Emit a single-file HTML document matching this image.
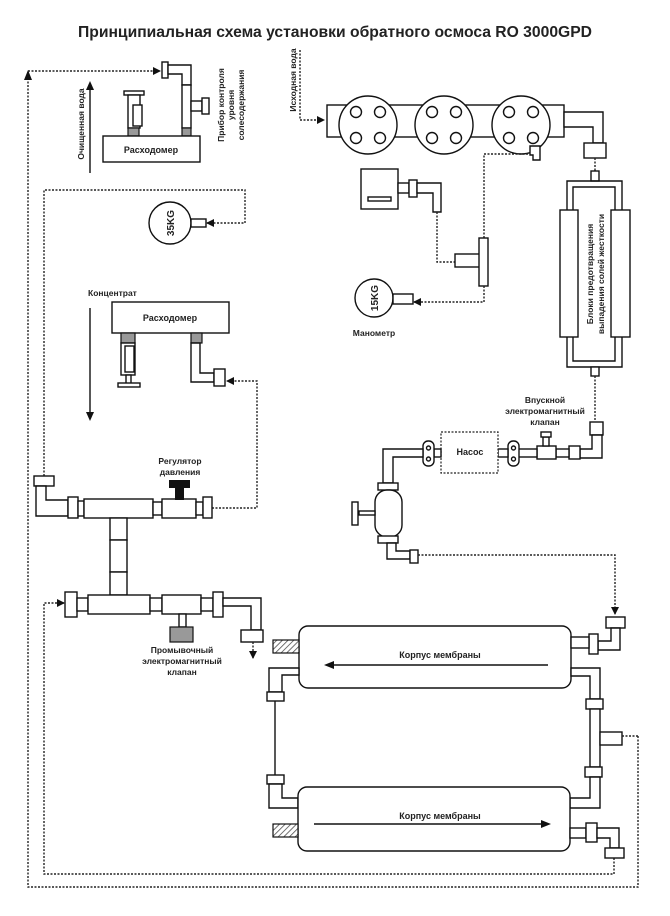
<!DOCTYPE html>
<html><head><meta charset="utf-8"><style>
html,body{margin:0;padding:0;background:#fff}
svg{display:block}
text{font-family:"Liberation Sans",Arial,sans-serif;font-weight:bold;fill:#222}
.s{fill:#fff;stroke:#111;stroke-width:1.4}
.n{fill:none;stroke:#111;stroke-width:1.4}
.d{fill:none;stroke:#222;stroke-width:1.4;stroke-dasharray:2 1.5}
.g{fill:#999;stroke:#111;stroke-width:1.2}
</style></head><body>
<svg width="670" height="916" viewBox="0 0 670 916" xmlns="http://www.w3.org/2000/svg">
<defs>
<marker id="a" markerWidth="8" markerHeight="8" refX="7" refY="4" orient="auto" markerUnits="userSpaceOnUse"><path d="M0,0 L8,4 L0,8z" fill="#111"/></marker>
<pattern id="h" width="4" height="4" patternUnits="userSpaceOnUse" patternTransform="rotate(45)"><rect width="4" height="4" fill="#fff"/><line x1="0" y1="0" x2="0" y2="4" stroke="#444" stroke-width="1.5"/></pattern>
</defs>
<text x="78" y="37" font-size="15.5" textLength="514" lengthAdjust="spacingAndGlyphs">Принципиальная схема установки обратного осмоса RO 3000GPD</text>

<!-- outer dotted loops -->
<path class="d" d="M638,736 V887 H28 V72" />
<path class="d" d="M28,71 H160" marker-end="url(#a)"/>
<path d="M24,80 L28,70 L32,80z" fill="#111"/>
<path class="d" d="M44,476 V190 H245 V223 H207" marker-end="url(#a)"/>
<path class="d" d="M614,858 V874 H44 V603 H64" marker-end="url(#a)"/>

<!-- top-left flowmeter -->
<rect class="s" x="162" y="62" width="6" height="16"/>
<path class="s" d="M168,65 H191 V85 H182 V74 H168z"/>
<rect class="s" x="182" y="85" width="9" height="43"/>
<rect class="s" x="191" y="101" width="11" height="10"/>
<rect class="s" x="202" y="98" width="7" height="16"/>
<rect class="g" x="182" y="128" width="9" height="8"/>
<rect class="s" x="124" y="91" width="20" height="4"/>
<rect class="s" x="128" y="95" width="12" height="33"/>
<rect class="s" x="133" y="105" width="9" height="21"/>
<rect class="g" x="128" y="128" width="11" height="8"/>
<rect class="s" x="103" y="136" width="97" height="26"/>
<text x="151" y="153" font-size="9" text-anchor="middle">Расходомер</text>
<line x1="90" y1="173" x2="90" y2="90" stroke="#111" stroke-width="1.4"/>
<path d="M86,90 L90,81 L94,90z" fill="#111"/>
<text transform="translate(84,124) rotate(-90)" font-size="8.5" text-anchor="middle">Очищенная вода</text>
<text transform="translate(224,105) rotate(-90)" font-size="8.5" text-anchor="middle">
<tspan x="0" dy="0">Прибор контроля</tspan><tspan x="0" dy="10">уровня</tspan><tspan x="0" dy="10">солесодержания</tspan></text>

<!-- 35KG -->
<circle class="s" cx="170" cy="223" r="21"/>
<rect class="s" x="191" y="219" width="15" height="8"/>
<text transform="translate(174,223) rotate(-90)" font-size="10" text-anchor="middle">35KG</text>

<!-- concentrate flowmeter -->
<text x="88" y="296" font-size="8.5">Концентрат</text>
<line x1="90" y1="308" x2="90" y2="412" stroke="#111" stroke-width="1.4"/>
<path d="M86,412 L90,421 L94,412z" fill="#111"/>
<rect class="s" x="112" y="302" width="117" height="31"/>
<text x="170" y="321" font-size="9" text-anchor="middle">Расходомер</text>
<rect class="g" x="121" y="333" width="14" height="10"/>
<rect class="s" x="121" y="343" width="14" height="32"/>
<rect class="s" x="125" y="346" width="9" height="26"/>
<rect class="s" x="126" y="375" width="5" height="9"/>
<rect class="s" x="118" y="383" width="22" height="4"/>
<rect class="g" x="191" y="333" width="11" height="10"/>
<path class="s" d="M191,343 H200 V373 H214 V382 H191z"/>
<rect class="s" x="214" y="369" width="11" height="17"/>
<path class="d" d="M212,508 H257 V381 H227" marker-end="url(#a)"/>

<!-- left valve assembly -->
<rect class="s" x="34" y="476" width="20" height="10"/>
<path class="s" d="M36,486 H46 V500 H68 V516 H36z"/>
<rect class="s" x="68" y="497" width="10" height="21"/>
<rect class="s" x="78" y="501" width="6" height="15"/>
<rect class="s" x="84" y="499" width="69" height="19"/>
<rect class="s" x="153" y="502" width="9" height="13"/>
<rect class="s" x="162" y="499" width="34" height="19"/>
<rect x="175" y="487" width="9" height="13" fill="#111"/>
<rect x="169" y="480" width="21" height="8" fill="#111"/>
<rect class="s" x="196" y="502" width="7" height="13"/>
<rect class="s" x="203" y="497" width="9" height="21"/>
<text x="180" y="464" font-size="8.5" text-anchor="middle">Регулятор</text>
<text x="180" y="475" font-size="8.5" text-anchor="middle">давления</text>
<rect class="s" x="110" y="518" width="17" height="22"/>
<rect class="s" x="110" y="540" width="17" height="32"/>
<rect class="s" x="110" y="572" width="17" height="23"/>
<rect class="s" x="65" y="592" width="12" height="25"/>
<rect class="s" x="77" y="598" width="11" height="13"/>
<rect class="s" x="88" y="595" width="62" height="19"/>
<rect class="s" x="150" y="598" width="12" height="13"/>
<rect class="s" x="162" y="595" width="39" height="19"/>
<rect class="s" x="179" y="614" width="7" height="13"/>
<rect class="g" x="170" y="627" width="23" height="15"/>
<rect class="s" x="201" y="598" width="12" height="13"/>
<rect class="s" x="213" y="592" width="10" height="25"/>
<path class="s" d="M223,598 H261 V630 H251 V606 H223z"/>
<rect class="s" x="241" y="630" width="22" height="12"/>
<path class="d" d="M253,642 V658" marker-end="url(#a)"/>
<text x="182" y="653" font-size="8.5" text-anchor="middle">Промывочный</text>
<text x="182" y="664" font-size="8.5" text-anchor="middle">электромагнитный</text>
<text x="182" y="675" font-size="8.5" text-anchor="middle">клапан</text>

<!-- source water -->
<text transform="translate(296,80) rotate(-90)" font-size="8.5" text-anchor="middle">Исходная вода</text>
<path class="d" d="M300,50 V120 H324" marker-end="url(#a)"/>
<rect class="s" x="327" y="105" width="237" height="32"/>
<g>
<circle class="s" cx="368" cy="125" r="29"/><circle class="s" cx="444" cy="125" r="29"/><circle class="s" cx="521" cy="125" r="29"/>
<g class="s">
<circle cx="356" cy="112" r="5.5"/><circle cx="380" cy="112" r="5.5"/><circle cx="356" cy="138" r="5.5"/><circle cx="380" cy="138" r="5.5"/>
<circle cx="432" cy="112" r="5.5"/><circle cx="456" cy="112" r="5.5"/><circle cx="432" cy="138" r="5.5"/><circle cx="456" cy="138" r="5.5"/>
<circle cx="509" cy="112" r="5.5"/><circle cx="533" cy="112" r="5.5"/><circle cx="509" cy="138" r="5.5"/><circle cx="533" cy="138" r="5.5"/>
</g></g>
<path class="s" d="M564,112 H603 V143 H593 V127 H564z"/>
<rect class="s" x="584" y="143" width="22" height="15"/>
<path class="s" d="M530,146 H540 V160 H533 V155 H530z"/>
<path class="d" d="M484,238 V154 H530"/>
<path class="d" d="M595,158 V172"/>

<rect class="s" x="361" y="169" width="37" height="40"/>
<rect class="s" x="368" y="197" width="23" height="4"/>
<rect class="s" x="398" y="183" width="11" height="10"/>
<rect class="s" x="409" y="180" width="8" height="17"/>
<path class="s" d="M417,183 H441 V212 H433 V193 H417z"/>
<path class="d" d="M437,212 V262 H455"/>
<rect class="s" x="455" y="254" width="25" height="13"/>
<rect class="s" x="479" y="238" width="9" height="48"/>
<path class="d" d="M484,286 V302 H414" marker-end="url(#a)"/>
<circle class="s" cx="374" cy="298" r="19"/>
<rect class="s" x="393" y="294" width="20" height="10"/>
<text transform="translate(378,298) rotate(-90)" font-size="10" text-anchor="middle">15KG</text>
<text x="374" y="336" font-size="8.5" text-anchor="middle">Манометр</text>

<!-- softener blocks -->
<rect class="s" x="591" y="171" width="8" height="10"/>
<path class="n" d="M567,211 V181 H622 V211 M573,211 V187 H615 V211"/>
<path class="n" d="M567,337 V367 H622 V337 M573,337 V361 H615 V337"/>
<rect class="s" x="591" y="367" width="8" height="9"/>
<rect class="s" x="560" y="210" width="18" height="127"/>
<rect class="s" x="611" y="210" width="19" height="127"/>
<text transform="translate(595,274) rotate(-90)" font-size="8.5" text-anchor="middle"><tspan x="0" dy="-2">Блоки предотвращения</tspan><tspan x="0" dy="11">выпадения солей жесткости</tspan></text>
<path class="d" d="M595,376 V422"/>

<!-- pump line -->
<text x="545" y="403" font-size="8.5" text-anchor="middle">Впускной</text>
<text x="545" y="414" font-size="8.5" text-anchor="middle">электромагнитный</text>
<text x="545" y="425" font-size="8.5" text-anchor="middle">клапан</text>
<rect class="s" x="590" y="422" width="13" height="13"/>
<path class="s" d="M592,435 H602 V458 H580 V449 H592z"/>
<rect class="s" x="569" y="446" width="11" height="13"/>
<rect class="s" x="556" y="449" width="13" height="8"/>
<rect class="s" x="537" y="446" width="19" height="13"/>
<rect class="s" x="543" y="437" width="6" height="9"/>
<rect class="s" x="541" y="432" width="10" height="5"/>
<rect class="s" x="518" y="449" width="19" height="8"/>
<rect class="s" x="508" y="441" width="11" height="25" rx="5"/>
<circle class="s" cx="513.5" cy="448" r="2"/><circle class="s" cx="513.5" cy="459" r="2"/>
<rect class="s" x="498" y="449" width="10" height="8"/>
<rect x="441" y="432" width="57" height="41" fill="#fff" stroke="#222" stroke-width="1.2" stroke-dasharray="2 1.5"/>
<text x="470" y="455" font-size="9" text-anchor="middle">Насос</text>
<rect class="s" x="434" y="449" width="7" height="8"/>
<rect class="s" x="423" y="441" width="11" height="25" rx="5"/>
<circle class="s" cx="428.5" cy="448" r="2"/><circle class="s" cx="428.5" cy="459" r="2"/>
<path class="s" d="M423,449 H383 V483 H393 V457 H423z"/>
<rect class="s" x="378" y="483" width="20" height="7"/>
<rect class="s" x="375" y="490" width="27" height="47" rx="12"/>
<rect class="s" x="378" y="536" width="20" height="7"/>
<rect class="s" x="359" y="511" width="16" height="4"/>
<rect class="s" x="352" y="502" width="6" height="23"/>
<path class="s" d="M387,543 H396 V551 H410 V559 H387z"/>
<rect class="s" x="410" y="550" width="8" height="13"/>
<path class="d" d="M418,555 H615 V614" marker-end="url(#a)"/>

<!-- membranes -->
<rect class="s" x="299" y="626" width="272" height="62" rx="9"/>
<rect x="273" y="640" width="26" height="13" fill="url(#h)" stroke="#111" stroke-width="1.2"/>
<text x="440" y="658" font-size="9" text-anchor="middle">Корпус мембраны</text>
<line x1="548" y1="665" x2="334" y2="665" stroke="#111" stroke-width="1.4"/>
<path d="M334,661 L324,665 L334,669z" fill="#111"/>
<rect class="s" x="606" y="617" width="19" height="11"/>
<path class="s" d="M611,628 H620 V650 H598 V641 H611z"/>
<rect class="s" x="589" y="634" width="9" height="20"/>
<rect class="s" x="571" y="637" width="18" height="11"/>
<path class="s" d="M299,668 H269 V692 H282 V675 H299z"/>
<rect class="s" x="267" y="692" width="17" height="9"/>
<line x1="275" y1="701" x2="275" y2="775" stroke="#111" stroke-width="1.4"/>
<rect class="s" x="267" y="775" width="17" height="9"/>
<path class="s" d="M269,784 H282 V798 H298 V808 H269z"/>
<path class="s" d="M571,668 H600 V699 H590 V676 H571z"/>
<rect class="s" x="586" y="699" width="17" height="10"/>
<rect class="s" x="590" y="709" width="10" height="58"/>
<rect class="s" x="600" y="732" width="22" height="13"/>
<path class="d" d="M622,736 H638"/>
<rect class="s" x="585" y="767" width="17" height="10"/>
<path class="s" d="M590,777 H600 V808 H570 V798 H590z"/>
<rect class="s" x="298" y="787" width="272" height="64" rx="9"/>
<rect x="273" y="824" width="25" height="13" fill="url(#h)" stroke="#111" stroke-width="1.2"/>
<text x="440" y="819" font-size="9" text-anchor="middle">Корпус мембраны</text>
<line x1="314" y1="824" x2="541" y2="824" stroke="#111" stroke-width="1.4"/>
<path d="M541,820 L551,824 L541,828z" fill="#111"/>
<rect class="s" x="570" y="828" width="16" height="10"/>
<rect class="s" x="586" y="823" width="11" height="19"/>
<path class="s" d="M597,828 H619 V848 H610 V838 H597z"/>
<rect class="s" x="605" y="848" width="19" height="10"/>
</svg>
</body></html>
